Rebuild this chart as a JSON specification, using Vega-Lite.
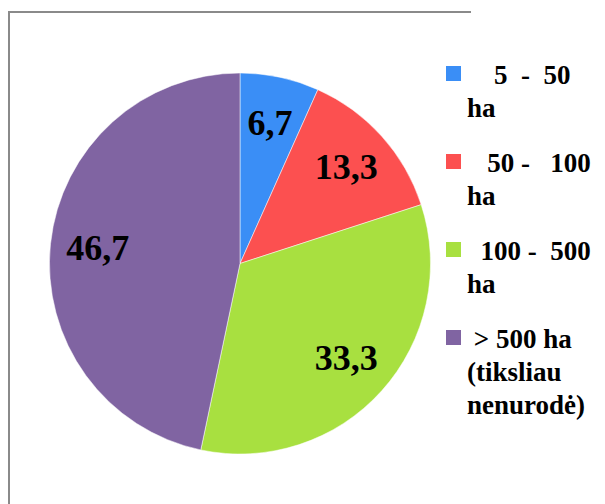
{
  "$schema": "https://vega.github.io/schema/vega-lite/v6.json",
  "autosize": "none",
  "width": 462,
  "height": 503,
  "padding": {"left": 9, "top": 12, "right": 134, "bottom": 0},
  "background": "white",
  "view": {"stroke": "#8a8a8a", "strokeWidth": 2, "strokeDash": [462, 965, 503]},
  "config": {
    "style": {
      "guide-label": {"lineBreak": "|", "lineHeight": 33, "dy": 10, "font": "Liberation Serif", "fontWeight": "bold", "fontSize": 27}
    }
  },
  "data": {
    "values": [
      {"cat": "5 - 50 ha", "v": 6.7, "t": "6,7", "o": 1},
      {"cat": "50 - 100 ha", "v": 13.3, "t": "13,3", "o": 2},
      {"cat": "100 - 500 ha", "v": 33.3, "t": "33,3", "o": 3},
      {"cat": "> 500 ha (tiksliau nenurodė)", "v": 46.7, "t": "46,7", "o": 4}
    ]
  },
  "layer": [
    {
      "mark": {"type": "arc", "outerRadius": 190.5, "stroke": "white", "strokeWidth": 0.5},
      "encoding": {
        "theta": {"field": "v", "type": "quantitative", "stack": true},
        "order": {"field": "o", "type": "quantitative"},
        "color": {
          "field": "cat",
          "type": "nominal",
          "scale": {
            "domain": ["5 - 50 ha", "50 - 100 ha", "100 - 500 ha", "> 500 ha (tiksliau nenurodė)"],
            "range": ["#3a8ef6", "#fc5050", "#a8e040", "#8064a2"]
          },
          "legend": {
            "title": null,
            "orient": "none",
            "legendX": 431,
            "legendY": 48,
            "padding": 0,
            "symbolType": "square",
            "symbolSize": 225,
            "symbolStrokeWidth": 0,
            "labelFont": "Liberation Serif",
            "labelFontSize": 27,
            "labelFontWeight": "bold",
            "labelColor": "black",
            "labelLimit": 0,
            "labelOffset": 0,
            "labelBaseline": "alphabetic",
            "rowPadding": 26,
            "labelExpr": "datum.value == '5 - 50 ha' ? '\u200b\u00a0\u00a0\u00a0\u00a05\u00a0\u00a0-\u00a0\u00a050|ha' : datum.value == '50 - 100 ha' ? '\u200b\u00a0\u00a0\u00a050\u00a0-\u00a0\u00a0\u00a0100|ha' : datum.value == '100 - 500 ha' ? '\u200b\u00a0\u00a0100\u00a0-\u00a0\u00a0500|ha' : '\u200b\u00a0>\u00a0500\u00a0ha|(tiksliau|nenurodė)'"
          }
        }
      }
    },
    {
      "mark": {"type": "text", "radius": 143, "fontSize": 36, "fontWeight": "bold", "font": "Liberation Serif", "color": "black", "baseline": "middle"},
      "encoding": {
        "theta": {"field": "v", "type": "quantitative", "stack": true},
        "order": {"field": "o", "type": "quantitative"},
        "text": {"field": "t", "type": "nominal"}
      }
    }
  ]
}
